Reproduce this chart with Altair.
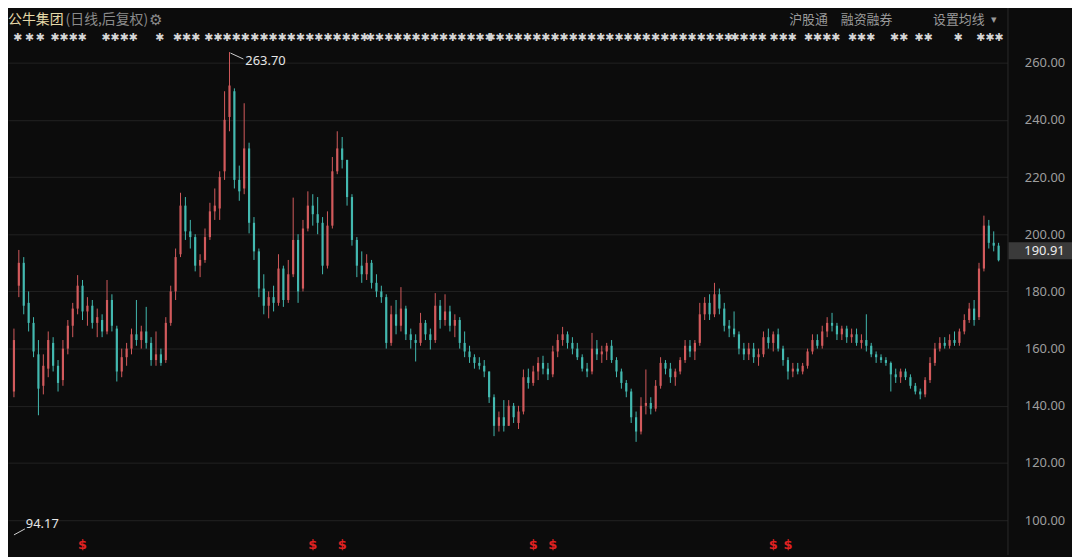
import altair as alt
import pandas as pd

# ---------------- data ----------------
opens = [145,182,190,176,169,158,147,153,162,154,
149,160,168,174,182,173,175,169,170,166,
177,167,152,157,160,165,163,166,162,156,
158,156,169,180,193,210,201,199,189,191,
199,208,209,222,241,250,219,216,230,204,
194,181,175,178,176,188,177,186,198,181,
202,210,207,204,189,203,222,230,226,213,
198,189,186,190,183,180,178,162,172,168,
174,165,163,162,169,165,163,175,170,173,
168,170,162,159,157,155,154,152,143,133,
136,133,140,134,138,150,148,152,155,153,
151,159,163,165,162,160,157,153,152,160,
158,159,161,156,152,148,145,136,131,140,
141,139,147,155,153,150,152,156,161,159,
162,172,176,172,179,174,168,167,165,160,
158,160,157,158,164,162,165,160,156,152,
153,152,154,159,163,161,166,169,168,165,
167,164,165,162,163,161,158,157,156,155,
151,150,152,150,147,145,144,149,155,160,
162,161,163,162,166,170,174,171,188,203,
197,196]

highs = [167,194.5,192,180,171,163,158,166,164,156,
163,170,176,185.7,184,178,177,174,172,184,
179,168,160,162,167,177,168,174.6,164,166,
160,171,182,195,214.5,213,205,200,193,202,
211,216,222,250,263.7,251,224,245.8,232,206,
195,186,180,182,193,189,191,212.8,200,205,
215,214,213,206,208,227,236,234,226,214,
199,194,193,191,186,182,179,175,177,181.5,
175,167,165,172.5,170,167,179.4,177,179,175,
172,171,166,161,158,157,156,152,144,138,
142,142,141,140,152.7,153,154,157,157.5,155,
161,165,167.6,166,164,162,158,155,165.5,163,
161,162,163,157,153,149,146,138,143,152.7,
143,149,157,156,155,153,157,163,163,163,
176,178,179,183,181,176,170,173,166,162,
162,162,160,166,167,166,167,161,157,155,
155,155,160,165,165,168,171,172.5,169,168,
168,167,167,165,172,162,159,158,157,155.5,
153,153,153,151,148,146,150,157,162,164,
164,165,166,167,172,176,177,190,206.5,205,
201,197]

lows = [143,178,172,166,157,136.7,144,150,152,145,
147,158,164,172,170,168,167,164,164,165,
166,148.5,150,154,158,161,160,160,154,154,
154,155,168,177,192,198,195,187,185,190,
198,205,205,219,236,216,211.7,214,200.3,191,
178,172,170.6,173,175,174.6,176,185,176,180,
201,203,200,186,188,202,221,223,210,196,
185,183,184,181,178,176,160,161,165,166,
163,160,155.5,161,163,159.7,162,167,168,166,
164,160,157,155,153,152.7,150,141,129.4,131,
131,133,134,131.9,137,146,147,149,151,149,
150,157,161,160,158,156,152,150,151,156,
155,156,155,150,146,143,134,127.4,130,137,
137,138,146,151,148,147,151,155,157,156,
161,170,170,171,172,166,164,164,158,156,
156,155,154,157,160,159,159,154,149.2,150,
151,151,153,158,160,160,164,166,163,163,
162,162,161,160,159,157,155,155,154,145,
148,148,149,146,144,142.3,143,148,154,159,
160,160,161,161,165,169,168,170,187,195,
194,190.5]

closes = [163,190,175,169,159,146,154,163,154,148,
160,168,174,182,173,175,169,171,166,177,
168,152,157,160,165,163,166,162,156,158,
155,169,180,192,210,201,199,189,191,199,
208,210,220,240,252,219,215,230,204,194,
181,175,178,176,188,177,186,198,180,202,
210,207,204,189,203,222,230,226,213,198,
189,186,190,183,180,178,162,172,168,174,
165,163,162,169,165,163,175,170,173,168,
170,162,159,157,155,154,152,143,133,136,
133,140,136,138,150,148,152,155,153,151,
159,163,165,162,160,157,153,152,160,158,
159,161,156,152,148,145,136,131,140,141,
139,147,155,153,150,152,156,161,159,162,
172,176,172,179,174,168,167,165,160,158,
160,157,158,164,162,165,160,156,152,153,
152,154,159,163,161,166,169,168,165,167,
164,165,162,163,161,158,157,156,155,151,
150,152,150,147,145,144,149,155,160,162,
161,163,162,166,170,174,170,188,203,197,
196,190.91]

y_ticks = [100, 120, 140, 160, 180, 200, 220, 240, 260]
dividend_idx = [14, 61, 67, 106, 110, 155, 158]
high_mark = {"i": [44], "v": [263.7], "label": ["263.70"]}
low_mark = {"i": [-0.2], "v": [94.17], "label": ["94.17"]}
last_price = {"v": [190.91], "label": ["190.91"]}
event_pos = [-0.2, 2.2, 4.4, 7.4, 17.8, 28.8, 32.4, 38.8, 48.2, 71.8,
             96.4, 118.8, 146.2, 154.2, 161.2, 170.2, 178.8, 183.8, 191.8, 196.4]
event_cnt = [1, 1, 1, 4, 4, 1, 3, 5, 13, 14, 12, 15, 4, 3, 4, 3, 2, 2, 1, 3]

# ---------------- build ----------------
BG = "#0c0c0c"
UP = "#d25a5c"
DOWN = "#43b9b0"

n = len(closes)
df = pd.DataFrame({"i": list(range(n)), "open": opens, "high": highs,
                   "low": lows, "close": closes})
df["dir"] = ["up" if c >= o else "down" for o, c in zip(opens, closes)]

xscale = alt.Scale(domain=[-0.2, 201.8], nice=False, zero=False)
yscale = alt.Scale(domain=[87.85, 271.45], nice=False, zero=False)
yaxis = alt.Axis(orient="right", values=y_ticks, format=".2f", labelColor="#9e9e9e",
                 labelFontSize=13, labelFont="Noto Sans", labelPadding=17, ticks=False,
                 domain=False, grid=True, gridColor="#222222", gridWidth=1, title=None,
                 labelAlign="left", labelBaseline="middle", labelOverlap=False)
color = alt.Color("dir:N", scale=alt.Scale(domain=["up", "down"], range=[UP, DOWN]), legend=None)

base = alt.Chart(df)
wicks = base.mark_rule(strokeWidth=1).encode(
    x=alt.X("i:Q", scale=xscale, axis=None),
    y=alt.Y("low:Q", scale=yscale, axis=yaxis),
    y2="high:Q",
    color=color,
)
bodies = base.mark_bar(size=2.2).encode(
    x=alt.X("i:Q", scale=xscale, axis=None),
    y=alt.Y("open:Q", scale=yscale, axis=yaxis),
    y2="close:Q",
    color=color,
)

div_df = pd.DataFrame({"i": dividend_idx})
divs = alt.Chart(div_df).mark_text(text="$", color="#e02222", fontSize=13,
                                   fontWeight="bold", font="DejaVu Sans").encode(
    x=alt.X("i:Q", scale=xscale, axis=None), y=alt.value(519))

hi_df = pd.DataFrame(high_mark)
hi_text = alt.Chart(hi_df).mark_text(align="left", baseline="middle", dx=16, dy=9,
                                     fontSize=13, font="Noto Sans", color="#e6e6e6").encode(
    x=alt.X("i:Q", scale=xscale, axis=None),
    y=alt.Y("v:Q", scale=yscale, axis=yaxis), text="label:N")
hi_arrow = alt.Chart(hi_df).mark_rule(color="#d0d0d0", strokeWidth=1, xOffset=1, yOffset=1,
                                      x2Offset=14, y2Offset=7).encode(
    x=alt.X("i:Q", scale=xscale, axis=None), x2="i:Q",
    y=alt.Y("v:Q", scale=yscale, axis=yaxis), y2="v:Q")

lo_df = pd.DataFrame(low_mark)
lo_text = alt.Chart(lo_df).mark_text(align="left", baseline="middle", dx=13, dy=-13,
                                     fontSize=13, font="Noto Sans", color="#e6e6e6").encode(
    x=alt.X("i:Q", scale=xscale, axis=None),
    y=alt.Y("v:Q", scale=yscale, axis=yaxis), text="label:N")
lo_arrow = alt.Chart(lo_df).mark_rule(color="#d0d0d0", strokeWidth=1, xOffset=1, yOffset=-2,
                                      x2Offset=12, y2Offset=-8).encode(
    x=alt.X("i:Q", scale=xscale, axis=None), x2="i:Q",
    y=alt.Y("v:Q", scale=yscale, axis=yaxis), y2="v:Q")

ev_df = pd.DataFrame({"i": event_pos, "t": ["\u2731" * c for c in event_cnt]})
events = alt.Chart(ev_df).mark_text(align="left", baseline="middle", fontSize=11,
                                    fontWeight="bold", font="DejaVu Sans",
                                    color="#d6d6d6").encode(
    x=alt.X("i:Q", scale=xscale, axis=None), y=alt.value(8), text="t:N")

lp_df = pd.DataFrame(last_price)
tag_rect = alt.Chart(lp_df).mark_rect(color="#3a3a3a", yOffset=-18, y2Offset=-1).encode(
    x=alt.value(1008), x2=alt.value(1072),
    y=alt.Y("v:Q", scale=yscale, axis=yaxis), y2="v:Q")
tag_text = alt.Chart(lp_df).mark_text(align="left", baseline="middle", dy=-9, fontSize=13,
                                      font="Noto Sans", color="#ececec").encode(
    x=alt.value(1024), y=alt.Y("v:Q", scale=yscale, axis=yaxis), text="label:N")

sep = alt.Chart(pd.DataFrame({"a": [0]})).mark_rule(color="#2a2a2a", strokeWidth=1).encode(
    x=alt.value(1007.5), y=alt.value(-28), y2=alt.value(529))

hdr = pd.DataFrame({
    "t": ["公牛集团", "(日线,后复权)", "\u2699", "沪股通", "融资融券", "设置均线", "\u25BE"],
    "px": [0, 58, 142, 787, 839, 932, 990],
    "c": ["#e6d9a8", "#8a8a8a", "#8a8a8a", "#9a9a9a", "#9a9a9a", "#9a9a9a", "#9a9a9a"],
    "s": [14, 14, 15, 13, 13, 13, 11],
})
header = alt.Chart(hdr).mark_text(align="left", baseline="middle",
                                  font="Noto Sans CJK SC").encode(
    x=alt.X("px:Q", scale=None), y=alt.value(-10), text="t:N",
    color=alt.Color("c:N", scale=None), size=alt.Size("s:Q", scale=None))

chart = alt.layer(
    wicks, bodies, divs, hi_arrow, hi_text, lo_arrow, lo_text, events,
    tag_rect, tag_text, sep, header
).properties(
    width=1007, height=529,
    padding={"left": 0, "top": 20, "right": 65, "bottom": 0},
    autosize=alt.AutoSizeParams(type="none"),
    background=BG,
).configure_view(stroke=None)

chart.save("out.html", embed_options={"renderer": "svg", "actions": False})
